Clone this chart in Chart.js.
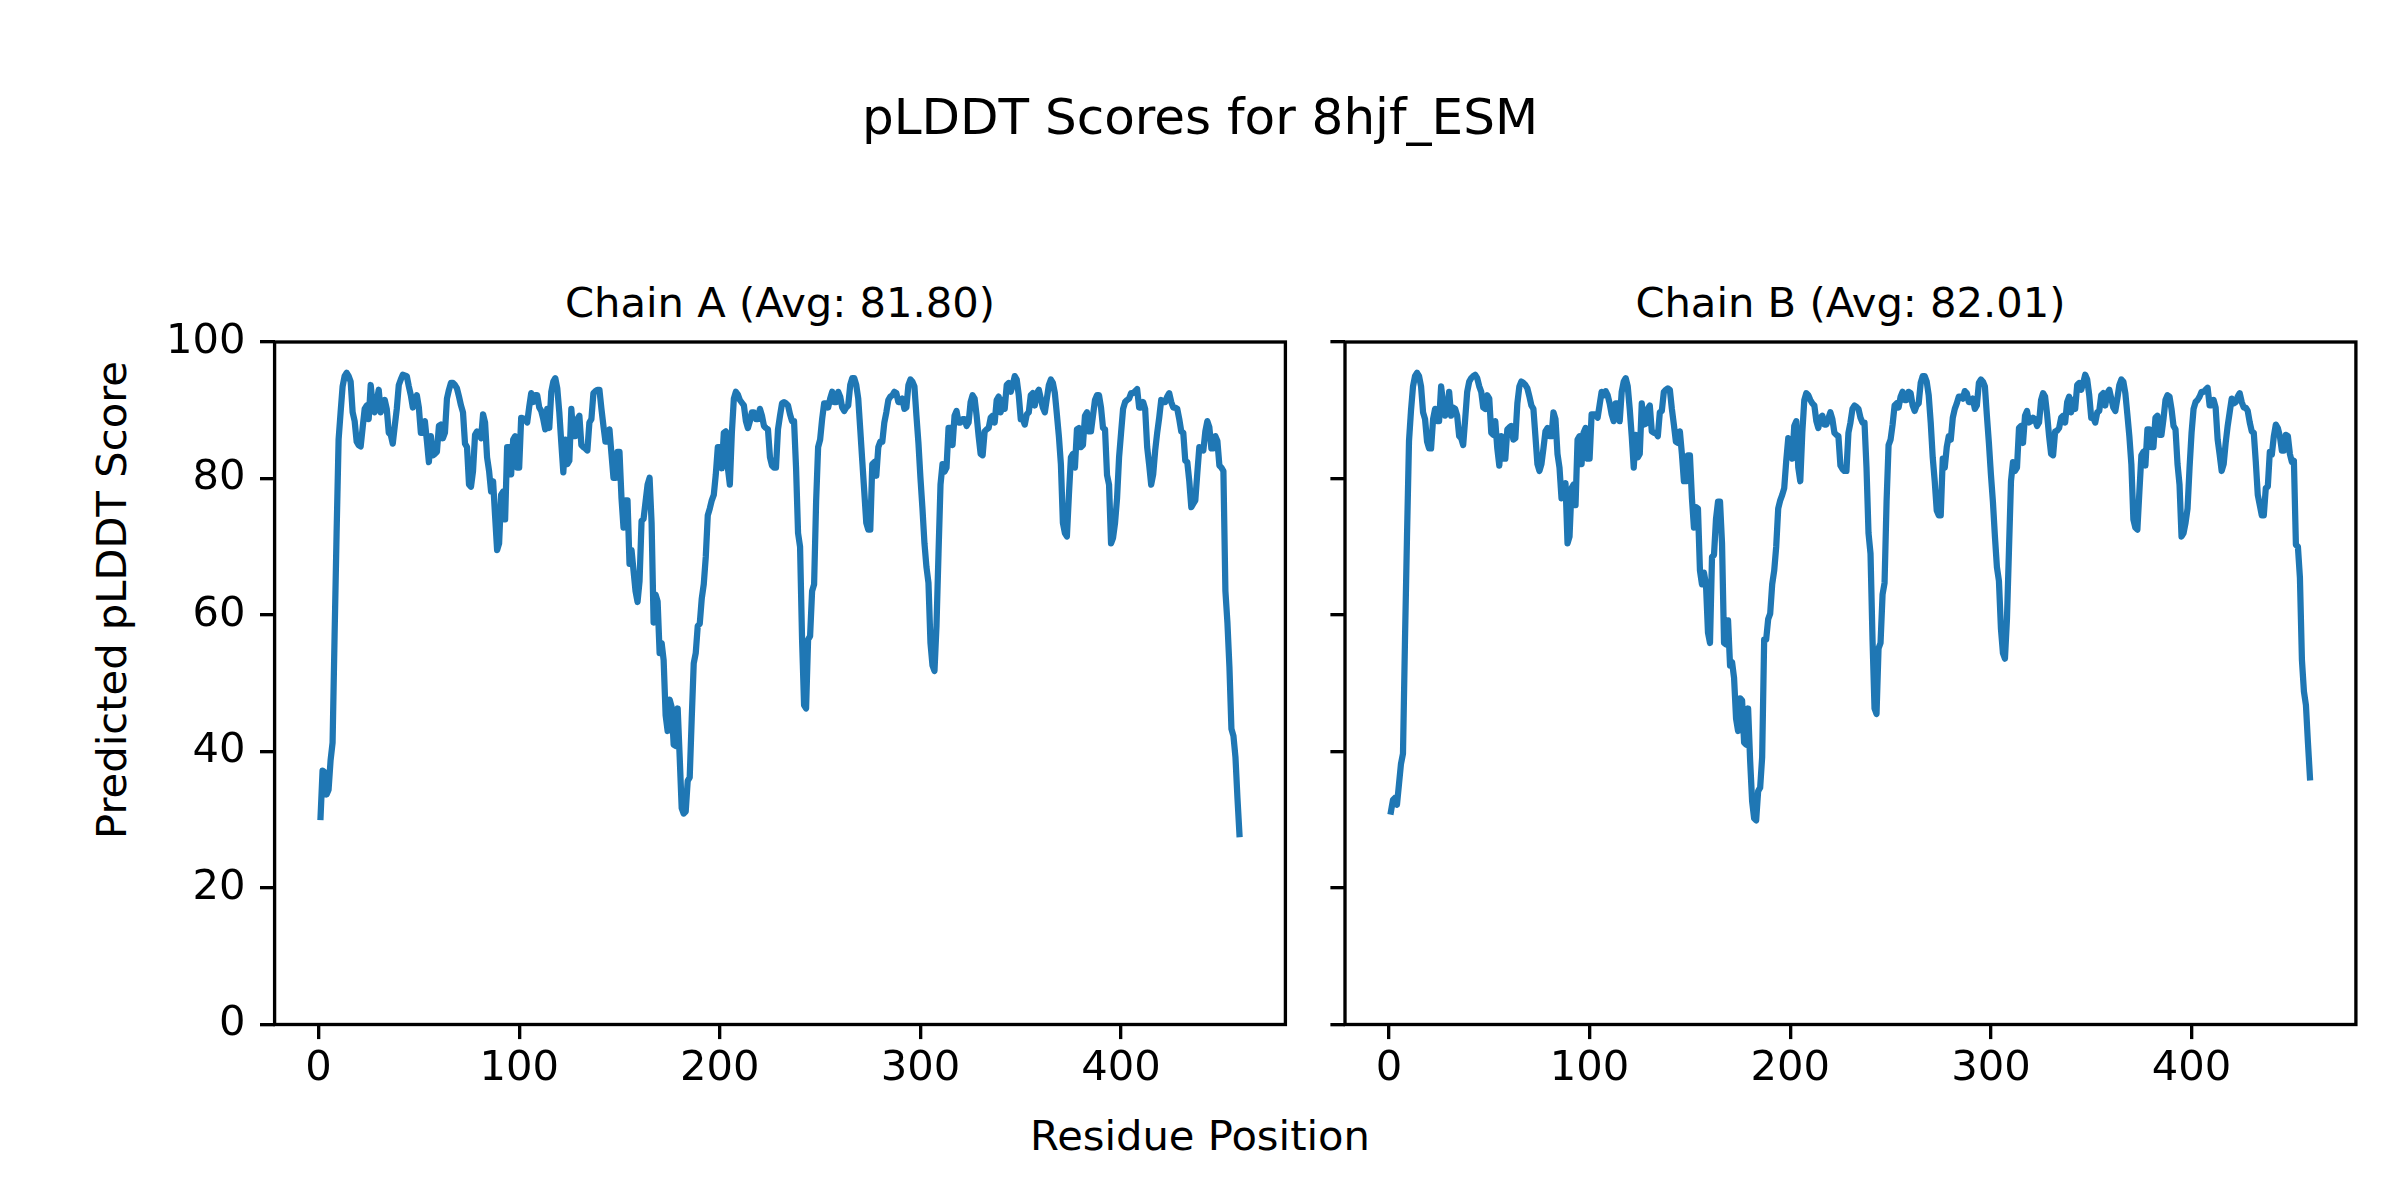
<!DOCTYPE html>
<html>
<head>
<meta charset="utf-8">
<script src="https://cdn.jsdelivr.net/npm/chart.js@4.4.1/dist/chart.umd.min.js"></script>
<style>
html,body{margin:0;padding:0;background:#fff;}
#fig{position:relative;width:2400px;height:1200px;overflow:hidden;background:#fff;font-family:"DejaVu Sans",sans-serif;color:#000;}
.txt{position:absolute;white-space:nowrap;line-height:1;}
canvas{position:absolute;}
</style>
</head>
<body>
<div id="fig">
  <div class="txt" id="suptitle"></div>
  <div class="txt" id="titleA"></div>
  <div class="txt" id="titleB"></div>
  <div class="txt" id="xlabel"></div>
  <div class="txt" id="ylabel"></div>
  <canvas id="cA" width="1170" height="800"></canvas>
  <canvas id="cB" width="1080" height="800"></canvas>
</div>
<script>
// ---------------- data ----------------
const figureTitle = "pLDDT Scores for 8hjf_ESM";
const chainTitles = ["Chain A (Avg: 81.80)", "Chain B (Avg: 82.01)"];
const xAxisLabel = "Residue Position";
const yAxisLabel = "Predicted pLDDT Score";
const xTickValues = [0, 100, 200, 300, 400];
const yTickValues = [0, 20, 40, 60, 80, 100];

const chainA = [
30.4,37.2,37.0,33.7,34.4,38.7,41.3,57.0,72.0,85.7,
89.7,93.5,95.0,95.5,95.0,94.2,89.7,88.4,85.4,84.9,
84.7,87.5,90.2,90.7,88.7,93.7,90.7,89.7,91.3,93.0,
89.7,90.6,91.5,90.2,86.7,86.4,85.1,87.7,90.2,93.7,
94.5,95.2,95.1,95.0,93.5,92.2,90.4,91.3,92.2,90.4,
86.7,86.7,88.4,85.5,82.4,86.2,83.4,83.6,83.9,87.7,
87.9,85.9,86.7,91.7,93.0,94.0,94.0,93.7,93.2,92.0,
90.7,89.7,85.1,84.6,79.1,78.8,81.1,86.4,86.9,86.4,
85.9,89.4,88.2,83.1,81.1,78.1,79.6,74.5,69.5,70.5,
77.6,78.1,74.0,84.6,84.6,80.6,85.7,86.2,81.6,81.6,
88.9,88.8,88.7,88.2,90.5,92.5,91.2,92.2,92.2,90.4,
89.9,88.7,87.2,90.2,87.4,92.7,94.2,94.7,93.2,89.7,
85.2,80.9,85.7,82.1,82.6,90.2,86.2,86.2,88.7,89.2,
84.9,84.6,84.4,84.1,88.2,88.7,92.5,92.8,93.0,93.0,
90.2,87.7,85.4,85.4,87.2,83.6,80.1,80.1,83.9,83.9,
77.1,72.8,76.8,76.8,67.5,69.5,66.5,63.5,61.9,65.0,
73.8,74.1,76.6,79.1,80.1,73.5,58.9,63.0,62.0,54.4,
55.9,53.4,45.3,43.0,47.6,46.5,41.0,40.8,46.3,39.2,
31.7,30.9,31.2,35.7,36.2,44.8,52.9,54.4,58.4,58.7,
62.4,64.5,68.5,74.6,75.6,76.8,77.6,80.6,84.6,84.6,
81.5,86.7,86.9,81.6,79.1,86.7,91.7,92.7,92.3,91.5,
91.1,90.7,88.4,87.4,88.4,89.7,89.7,88.7,88.7,90.2,
89.2,87.7,87.4,87.2,83.1,81.9,81.6,81.6,87.2,89.2,
91.0,91.2,91.0,90.7,89.4,88.4,88.4,81.6,72.0,70.0,
56.4,46.8,46.3,56.4,56.9,63.5,64.5,76.6,84.6,85.7,
88.7,91.0,91.0,90.4,91.7,92.7,91.2,91.2,92.7,92.0,
90.4,89.9,90.4,90.7,93.7,94.7,94.7,93.7,91.7,87.2,
82.6,78.1,73.5,72.5,72.5,82.1,82.4,80.4,84.6,85.4,
85.4,88.2,89.7,91.5,92.0,92.2,92.7,92.5,91.2,91.2,
91.7,90.2,90.4,93.7,94.5,94.2,93.5,89.2,85.2,80.1,
75.6,70.5,67.0,64.7,55.9,52.6,51.8,58.4,69.0,79.1,
82.1,81.0,81.6,87.4,87.4,84.9,89.2,89.9,88.2,88.2,
88.7,88.7,87.7,88.2,91.2,92.2,91.7,89.2,86.2,83.6,
83.4,86.9,87.2,87.4,88.9,89.2,88.2,91.5,92.0,89.7,
91.5,90.2,93.7,94.0,92.7,93.7,95.0,94.5,92.2,88.7,
88.7,87.9,89.4,89.7,92.2,92.5,90.7,92.5,93.0,91.7,
90.4,89.7,91.7,93.7,94.5,94.0,92.5,89.4,86.2,82.1,
73.5,72.0,71.5,77.6,83.1,83.6,81.6,87.2,87.4,84.6,
84.9,89.2,89.7,86.9,86.9,89.2,91.5,92.2,92.2,90.4,
87.4,87.2,80.5,79.1,70.5,71.3,73.5,77.1,83.1,86.7,
90.2,91.2,91.5,91.7,92.5,92.5,92.8,93.1,90.4,90.4,
91.2,90.2,84.6,82.0,79.1,80.6,84.1,86.7,88.9,91.5,
91.2,91.2,92.0,92.5,91.2,90.4,90.4,90.2,88.7,86.9,
86.7,82.6,82.4,79.6,75.8,76.3,76.8,80.8,84.6,84.4,
84.1,86.9,88.4,87.5,84.4,84.4,86.2,85.5,81.9,81.6,
81.1,63.5,58.9,52.4,43.3,42.3,39.2,33.2,27.9
];

const chainB = [
31.2,32.9,33.2,32.2,35.2,38.2,39.7,56.4,71.5,85.5,
90.0,93.5,95.0,95.5,95.0,93.5,89.7,88.7,85.4,84.4,
84.4,88.7,90.2,88.4,88.4,93.5,91.0,89.2,89.7,92.7,
89.2,90.4,90.2,89.2,86.2,85.9,84.9,88.7,92.7,94.2,
94.7,95.0,95.2,94.7,93.5,92.7,90.4,90.2,92.2,91.7,
86.7,86.4,88.4,84.4,81.9,86.2,82.9,82.9,87.2,87.5,
87.7,85.7,85.9,91.0,93.5,94.2,94.0,93.7,93.2,92.0,
90.7,90.2,86.2,82.1,81.1,82.1,84.4,86.9,87.4,86.2,
86.2,89.7,88.7,83.6,81.6,77.1,78.5,79.3,70.5,71.5,
78.6,79.1,76.1,85.7,86.2,82.1,86.7,87.4,82.9,82.9,
89.4,89.4,89.4,88.9,90.8,92.7,92.2,92.8,92.2,91.0,
89.4,88.4,91.0,91.0,88.4,92.7,94.2,94.7,93.5,90.2,
86.2,81.6,86.4,83.1,83.6,91.0,87.9,88.0,90.2,90.7,
86.9,86.7,86.7,86.2,89.7,89.9,92.7,93.0,93.2,93.0,
90.2,87.9,85.4,85.2,86.9,83.6,79.6,79.6,83.4,83.4,
77.1,72.8,75.8,75.6,66.5,64.5,66.2,64.5,57.4,55.9,
68.5,68.8,74.1,76.6,76.6,70.5,55.9,55.7,59.2,52.6,
53.1,50.8,44.8,43.0,47.8,47.5,41.3,41.0,46.3,38.7,
32.7,30.2,29.9,34.2,34.7,39.2,56.4,56.4,59.4,60.2,
64.5,66.5,70.0,75.6,76.8,77.6,78.6,82.6,85.9,85.7,
82.9,87.7,88.4,81.6,79.6,86.7,91.5,92.5,92.2,91.5,
91.0,90.7,88.4,87.4,88.9,89.2,87.9,87.9,88.8,89.7,
88.7,86.7,86.4,86.2,81.9,81.4,81.1,81.1,86.7,88.2,
90.2,90.7,90.5,90.2,88.9,88.2,88.2,81.6,72.0,69.0,
56.4,46.3,45.5,55.1,55.9,63.0,64.7,76.6,84.9,85.7,
87.9,90.7,91.0,90.4,92.0,92.7,91.5,91.5,92.7,92.5,
90.7,89.9,90.7,91.0,94.0,95.0,95.0,94.2,92.2,88.2,
83.1,79.6,75.3,74.6,74.6,82.9,81.6,84.6,86.2,85.7,
88.9,90.2,91.0,92.0,92.0,91.7,92.8,92.5,91.2,91.2,
91.7,90.2,90.7,94.0,94.5,94.2,93.5,89.2,85.2,80.6,
76.6,71.5,67.0,65.0,58.0,54.4,53.6,59.4,69.5,79.6,
82.4,81.1,81.6,87.4,87.7,85.2,89.2,89.9,88.2,88.4,
88.9,88.7,87.7,88.2,91.5,92.5,92.0,89.4,86.2,83.6,
83.4,86.9,87.0,87.4,88.9,89.2,88.2,91.2,92.0,89.7,
91.5,90.2,93.7,94.0,93.0,94.0,95.2,94.5,92.2,88.9,
88.9,88.2,89.7,89.9,92.2,92.5,90.7,92.5,93.0,91.7,
90.4,89.9,91.7,93.7,94.5,94.2,92.5,89.4,86.2,82.1,
74.0,72.8,72.5,78.1,83.4,83.9,81.9,87.2,87.2,84.6,
84.6,88.9,89.2,86.4,86.4,88.7,91.5,92.2,92.0,90.2,
87.7,87.2,82.1,79.1,71.5,72.0,73.5,75.6,81.6,86.7,
90.2,91.2,91.5,92.0,92.7,92.7,93.0,93.3,90.7,90.7,
91.5,90.4,85.7,83.5,81.1,82.1,85.2,87.7,89.7,91.7,
91.0,91.2,92.0,92.5,91.2,90.4,90.4,89.9,88.2,86.9,
86.7,82.5,77.6,76.1,74.6,74.6,78.6,78.8,83.9,83.5,
86.2,87.9,87.4,86.2,84.1,84.1,86.4,86.2,83.6,82.4,
82.6,70.3,70.0,65.5,53.4,48.8,46.8,41.3,36.2
];

// residue positions 1..N (the category axis of the plot)
const residuePositions = chainA.map((_, i) => i + 1);

// ---------------- style / layout ----------------
const LINE_COLOR = '#1f77b4';
const FONT_PX = 41.67;
const TITLE_PX = 50;
const TICK_LEN = 14.6;
const SPINE_W = 3.33;

function placeText(id, text, css) {
  const el = document.getElementById(id);
  el.textContent = text;
  Object.assign(el.style, css);
}
placeText('suptitle', figureTitle, {fontSize: TITLE_PX + 'px', left: '1200px', top: '92px', transform: 'translateX(-50%)'});
placeText('titleA', chainTitles[0], {fontSize: FONT_PX + 'px', left: '780px', top: '282px', transform: 'translateX(-50%)'});
placeText('titleB', chainTitles[1], {fontSize: FONT_PX + 'px', left: '1850.5px', top: '282px', transform: 'translateX(-50%)'});
placeText('xlabel', xAxisLabel, {fontSize: FONT_PX + 'px', left: '1200px', top: '1115px', transform: 'translateX(-50%)'});
placeText('ylabel', yAxisLabel, {fontSize: FONT_PX + 'px', left: '111.5px', top: '600px', transform: 'translate(-50%,-50%) rotate(-90deg)'});

const cA = document.getElementById('cA');
Object.assign(cA.style, {left: '150px', top: '300px', width: '1170px', height: '800px'});
const cB = document.getElementById('cB');
Object.assign(cB.style, {left: '1320px', top: '300px', width: '1080px', height: '800px'});

Chart.defaults.font.family = "'DejaVu Sans', sans-serif";
Chart.defaults.font.size = FONT_PX;
Chart.defaults.color = '#000';

const boxPlugin = {
  id: 'boxPlugin',
  afterDatasetsDraw(chart) {
    const a = chart.chartArea;
    const ctx = chart.ctx;
    ctx.save();
    ctx.strokeStyle = '#000';
    ctx.lineWidth = SPINE_W;
    ctx.lineJoin = 'miter';
    ctx.strokeRect(a.left, a.top, a.right - a.left, a.bottom - a.top);
    ctx.restore();
  }
};

const N = residuePositions.length;
const R = residuePositions[N - 1] - residuePositions[0];
const X_MIN = residuePositions[0] - 0.05 * R;
const X_MAX = residuePositions[N - 1] + 0.05 * R;

function makeChart(canvas, values, opts) {
  return new Chart(canvas, {
    type: 'line',
    data: {
      datasets: [{
        data: residuePositions.map((r, i) => ({x: r, y: values[i]})),
        borderColor: LINE_COLOR,
        borderWidth: 6.25,
        pointRadius: 0,
        pointHoverRadius: 0,
        tension: 0,
        fill: false,
        borderJoinStyle: 'round',
        borderCapStyle: 'square'
      }]
    },
    options: {
      responsive: false,
      animation: false,
      devicePixelRatio: 1,
      events: [],
      layout: {padding: {left: 0, right: opts.padRight, top: 42, bottom: 0}},
      plugins: {legend: {display: false}, tooltip: {enabled: false}, title: {display: false}},
      scales: {
        x: {
          type: 'linear',
          min: X_MIN,
          max: X_MAX,
          border: {display: false},
          grid: {drawOnChartArea: false, drawTicks: true, tickLength: TICK_LEN, tickWidth: SPINE_W, tickColor: '#000', color: '#000', lineWidth: SPINE_W},
          ticks: {padding: 5, maxRotation: 0, autoSkip: false, color: '#000', font: {size: FONT_PX}},
          afterBuildTicks: (scale) => { scale.ticks = xTickValues.map(v => ({value: v})); },
          afterFit: (scale) => { scale.height = 75.5; }
        },
        y: {
          type: 'linear',
          min: 0,
          max: 100,
          border: {display: false},
          grid: {drawOnChartArea: false, drawTicks: true, tickLength: TICK_LEN, tickWidth: SPINE_W, tickColor: '#000', color: '#000', lineWidth: SPINE_W},
          ticks: {display: opts.showYLabels, padding: 14.6, color: '#000', font: {size: FONT_PX}},
          afterBuildTicks: (scale) => { scale.ticks = yTickValues.map(v => ({value: v})); },
          afterFit: (scale) => { scale.width = opts.yWidth; }
        }
      }
    },
    plugins: [boxPlugin]
  });
}

makeChart(cA, chainA, {padRight: 34.6, yWidth: 124.6, showYLabels: true});
makeChart(cB, chainB, {padRight: 44.1, yWidth: 25, showYLabels: false});
</script>
</body>
</html>
